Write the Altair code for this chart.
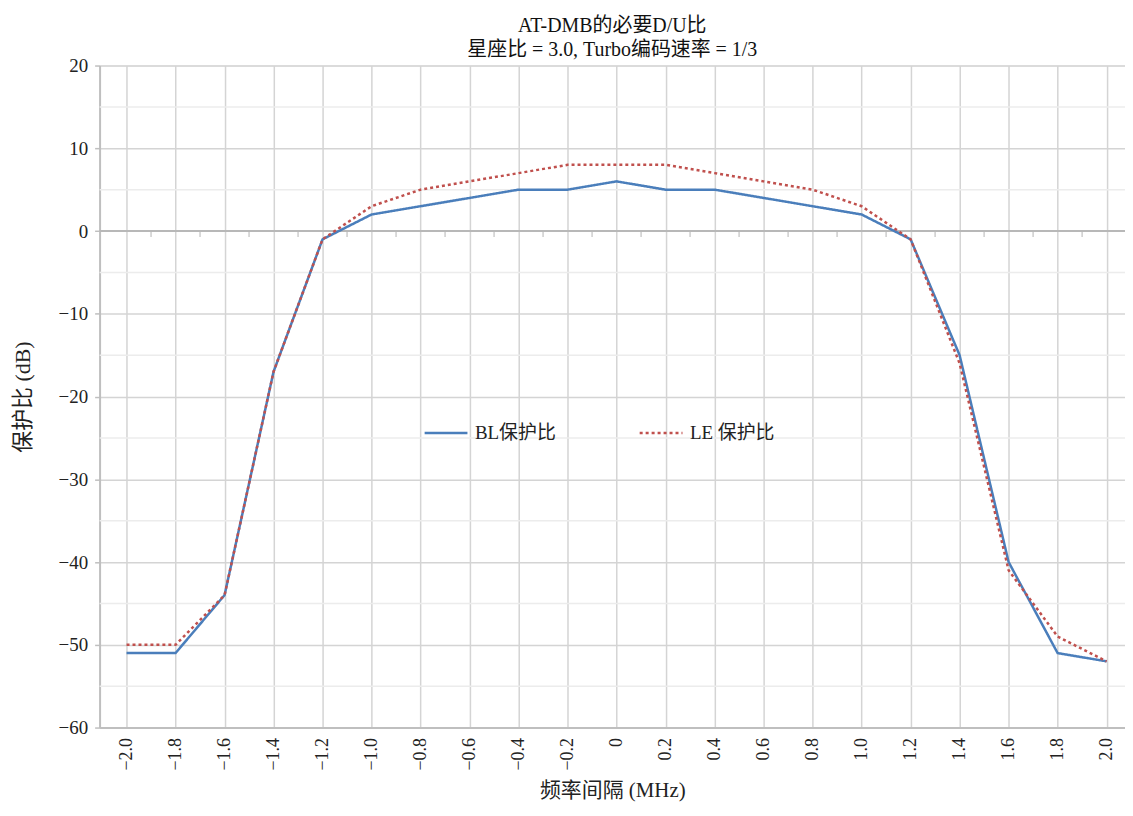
import altair as alt
import pandas as pd

freq = [-2.0, -1.8, -1.6, -1.4, -1.2, -1.0, -0.8, -0.6, -0.4, -0.2, 0.0,
        0.2, 0.4, 0.6, 0.8, 1.0, 1.2, 1.4, 1.6, 1.8, 2.0]
bl = [-51, -51, -44, -17, -1, 2, 3, 4, 5, 5, 6, 5, 5, 4, 3, 2, -1, -15, -40, -51, -52]
le = [-50, -50, -44, -17, -1, 3, 5, 6, 7, 8, 8, 8, 7, 6, 5, 3, -1, -16, -41, -49, -52]
series_names = ["BL保护比", "LE 保护比"]
x_tick_values = [-2.0, -1.8, -1.6, -1.4, -1.2, -1.0, -0.8, -0.6, -0.4, -0.2, 0.0,
                 0.2, 0.4, 0.6, 0.8, 1.0, 1.2, 1.4, 1.6, 1.8, 2.0]
y_tick_values = [-60, -50, -40, -30, -20, -10, 0, 10, 20]
y_minor_values = [-55, -45, -35, -25, -15, -5, 5, 15]
zero_minor_ticks = [-1.9, -1.7, -1.5, -1.3, -1.1, -0.9, -0.7, -0.5, -0.3, -0.1,
                    0.1, 0.3, 0.5, 0.7, 0.9, 1.1, 1.3, 1.5, 1.7, 1.9]

FONT = "'Liberation Serif', 'Noto Sans CJK SC', serif"

rows = []
for f, v in zip(freq, bl):
    rows.append({"freq": f, "val": v, "series": series_names[0]})
for f, v in zip(freq, le):
    rows.append({"freq": f, "val": v, "series": series_names[1]})
df = pd.DataFrame(rows)

xscale = alt.Scale(domain=[-2.11, 2.075], nice=False, zero=False)
yscale = alt.Scale(domain=[-60, 20], nice=False)

minor_df = pd.DataFrame({"y": y_minor_values})
minor_grid = alt.Chart(minor_df).mark_rule(color="#ececec", strokeWidth=1.5).encode(
    y=alt.Y("y:Q", scale=yscale)
)

zero_df = pd.DataFrame({"y": [0]})
zero_line = alt.Chart(zero_df).mark_rule(color="#b8b8b8", strokeWidth=2).encode(
    y=alt.Y("y:Q", scale=yscale)
)

tick_df = pd.DataFrame({"x": zero_minor_ticks, "y": [0] * len(zero_minor_ticks)})
zero_ticks = alt.Chart(tick_df).mark_tick(
    orient="vertical", size=6, thickness=1.5, color="#b8b8b8", yOffset=3
).encode(
    x=alt.X("x:Q", scale=xscale),
    y=alt.Y("y:Q", scale=yscale),
)

legend_cfg = dict(
    title=None,
    orient="none",
    legendX=325,
    legendY=346,
    direction="horizontal",
    symbolType="stroke",
    symbolSize=1849,
    symbolStrokeWidth=2.5,
    labelFont=FONT,
    labelFontSize=19,
    labelColor="#222222",
    labelOffset=6,
    columnPadding=78,
    padding=0,
)

lines = alt.Chart(df).mark_line(strokeWidth=2.5).encode(
    x=alt.X(
        "freq:Q",
        scale=xscale,
        title="频率间隔 (MHz)",
        axis=alt.Axis(
            values=x_tick_values,
            labelAngle=270,
            labelExpr="datum.value == 0 ? '0' : replace(format(datum.value, '.1f'), '-', '−')",
            labelFont=FONT,
            labelFontSize=18,
            labelColor="#222222",
            labelPadding=10,
            ticks=False,
            grid=True,
            gridColor="#d4d4d4",
            gridWidth=1.5,
            domainColor="#bfbfbf",
            domainWidth=2,
            titleFont=FONT,
            titleFontSize=21,
            titleFontWeight="normal",
            titleColor="#222222",
            titlePadding=10,
        ),
    ),
    y=alt.Y(
        "val:Q",
        scale=yscale,
        title="保护比 (dB)",
        axis=alt.Axis(
            values=y_tick_values,
            labelExpr="replace(format(datum.value, 'd'), '-', '−')",
            labelFont=FONT,
            labelFontSize=19,
            labelColor="#222222",
            labelPadding=7,
            tickSize=5,
            tickColor="#bfbfbf",
            tickWidth=1.5,
            grid=True,
            gridColor="#d4d4d4",
            gridWidth=1.5,
            domainColor="#bfbfbf",
            domainWidth=2,
            titleFont=FONT,
            titleFontSize=22,
            titleFontWeight="normal",
            titleColor="#222222",
            titlePadding=24,
        ),
    ),
    color=alt.Color(
        "series:N",
        scale=alt.Scale(domain=series_names, range=["#4a7ebb", "#c0504d"]),
        legend=alt.Legend(**legend_cfg),
    ),
    strokeDash=alt.StrokeDash(
        "series:N",
        scale=alt.Scale(domain=series_names, range=[[1, 0], [3, 3]]),
        legend=alt.Legend(**legend_cfg),
    ),
)

chart = alt.layer(minor_grid, zero_line, zero_ticks, lines).properties(
    width=1030,
    height=665,
    padding={"left": 92, "top": 56, "right": 0, "bottom": 76},
    autosize=alt.AutoSizeParams(type="none"),
    title=alt.TitleParams(
        text=["AT-DMB的必要D/U比", "星座比 = 3.0, Turbo编码速率 = 1/3"],
        font=FONT,
        fontSize=20,
        fontWeight="normal",
        color="#111111",
        lineHeight=24,
        anchor="middle",
        offset=-3,
    ),
).configure_view(stroke=None).configure(background="white")

chart.save("out.html", embed_options={"renderer": "svg", "actions": False})
